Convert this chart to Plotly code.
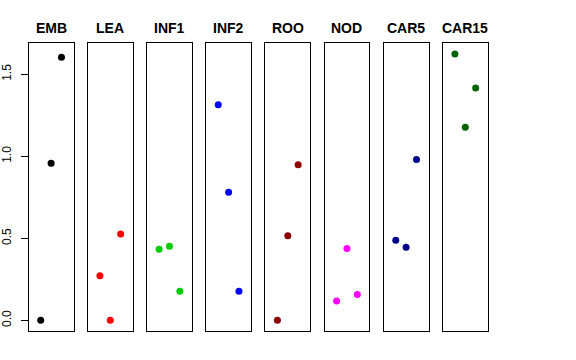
import plotly.graph_objects as go

panels = ["EMB", "LEA", "INF1", "INF2", "ROO", "NOD", "CAR5", "CAR15"]
colors = ["#000000", "#FF0000", "#00CD00", "#0000FF", "#8B0000", "#FF00FF", "#00008B", "#006400"]
x_pos = [1, 2, 3]
EMB = [0.0, 0.958, 1.604]
LEA = [0.272, 0.0, 0.526]
INF1 = [0.434, 0.452, 0.178]
INF2 = [1.315, 0.781, 0.177]
ROO = [0.0, 0.515, 0.948]
NOD = [0.118, 0.438, 0.158]
CAR5 = [0.489, 0.445, 0.980]
CAR15 = [1.624, 1.177, 1.417]
values = [EMB, LEA, INF1, INF2, ROO, NOD, CAR5, CAR15]
ytick_vals = [0.0, 0.5, 1.0, 1.5]
ytick_text = ["0.0", "0.5", "1.0", "1.5"]

W, H = 576, 360
left0 = 28.7
pitch = 59.17
pw = 44.8
top_px, bot_px = 43.3, 331.0

ymin = min(min(v) for v in values)
ymax = max(max(v) for v in values)
yr = [ymin - 0.04 * (ymax - ymin), ymax + 0.04 * (ymax - ymin)]
xr = [0 - 0.16, 4 + 0.16]

fig = go.Figure()
layout = dict(
    width=W, height=H, margin=dict(l=0, r=0, t=0, b=0, autoexpand=False),
    paper_bgcolor="white", plot_bgcolor="white", showlegend=False,
    font=dict(family="Liberation Sans, Arial, sans-serif", color="black"),
)
annotations = []
for i, (name, col, vals) in enumerate(zip(panels, colors, values)):
    k = "" if i == 0 else str(i + 1)
    fig.add_trace(go.Scatter(
        x=x_pos, y=vals, mode="markers",
        marker=dict(color=col, size=7, line=dict(width=0)),
        xaxis="x" + k, yaxis="y" + k,
    ))
    x0 = (left0 + i * pitch) / W
    x1 = (left0 + i * pitch + pw) / W
    layout["xaxis" + k] = dict(
        domain=[x0, x1], range=xr, showticklabels=False, ticks="",
        showgrid=False, zeroline=False, showline=True, linecolor="black",
        linewidth=1, mirror=True, anchor="y" + k, fixedrange=True,
        automargin=False,
    )
    yax = dict(
        domain=[1 - bot_px / H, 1 - top_px / H], range=yr,
        showgrid=False, zeroline=False, showline=True, linecolor="black",
        linewidth=1, mirror=True, anchor="x" + k, fixedrange=True,
        automargin=False,
    )
    if i == 0:
        yax.update(tickvals=ytick_vals, ticktext=ytick_text, ticks="outside",
                   ticklen=7, tickcolor="black", tickangle=-90,
                   tickfont=dict(size=12, color="black"), ticklabelstandoff=5)
    else:
        yax.update(showticklabels=False, ticks="")
    layout["yaxis" + k] = yax
    annotations.append(dict(
        text="<b>" + name + "</b>", x=(x0 + x1) / 2, y=1 - 28.5 / H,
        xref="paper", yref="paper", xanchor="center", yanchor="middle",
        showarrow=False, font=dict(size=14, color="black"),
    ))
layout["annotations"] = annotations
fig.update_layout(**layout)
fig.write_html("out.html", config={"displayModeBar": False},
               post_script="document.body.style.margin='0px';")
